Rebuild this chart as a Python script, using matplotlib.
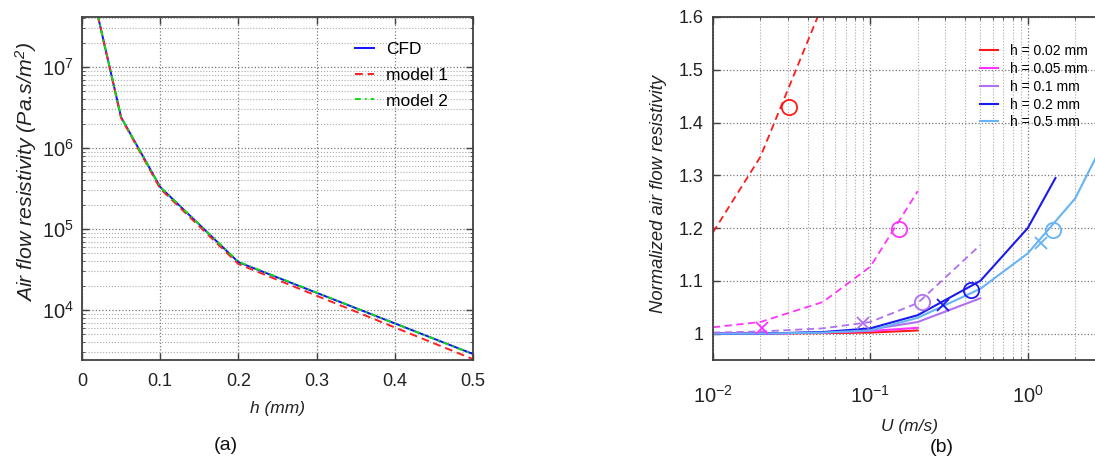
import matplotlib
matplotlib.use("Agg")
import matplotlib.pyplot as plt
import numpy as np
from matplotlib.ticker import LogLocator, NullFormatter

plt.rcParams["font.family"] = ["Liberation Sans", "DejaVu Sans"]
plt.rcParams["mathtext.fontset"] = "custom"
plt.rcParams["mathtext.rm"] = "Liberation Sans"
plt.rcParams["mathtext.it"] = "Liberation Sans:italic"
plt.rcParams["mathtext.default"] = "regular"

# ---- panel (a) data ----
h_mm = [0.02, 0.05, 0.1, 0.2, 0.5]
res_cfd = [4.4e7, 2.4e6, 3.3e5, 3.9e4, 2.87e3]
res_model1 = [4.4e7, 2.35e6, 3.15e5, 3.7e4, 2.48e3]
res_model2 = [4.4e7, 2.4e6, 3.3e5, 3.95e4, 2.85e3]
a_xticks = [0, 0.1, 0.2, 0.3, 0.4, 0.5]
a_xticklabels = ["0", "0.1", "0.2", "0.3", "0.4", "0.5"]

# ---- panel (b) data ----
u_ms = [0.01, 0.02, 0.05, 0.1, 0.2]
n_002_cfd = [1.0, 1.0, 1.001, 1.002, 1.006]
n_005_cfd = [1.0, 1.0, 1.002, 1.005, 1.011]
u_002_model = [0.01, 0.02, 0.05]
n_002_model = [1.192, 1.335, 1.625]
n_005_model = [1.012, 1.022, 1.06, 1.127, 1.27]
u_01 = [0.01, 0.02, 0.05, 0.1, 0.2, 0.5]
n_01_cfd = [1.0, 1.0, 1.002, 1.008, 1.022, 1.067]
n_01_model = [1.002, 1.004, 1.01, 1.022, 1.058, 1.168]
u_02 = [0.01, 0.02, 0.05, 0.1, 0.2, 0.5, 1.0, 1.5]
n_02_cfd = [1.0, 1.0, 1.003, 1.01, 1.035, 1.1, 1.2, 1.295]
u_05 = [0.01, 0.02, 0.05, 0.1, 0.2, 0.5, 1.0, 2.0, 3.0]
n_05_cfd = [1.0, 1.0, 1.002, 1.006, 1.03, 1.085, 1.152, 1.256, 1.36]

circ_u = [0.0302, 0.152, 0.212, 0.435, 1.44]
circ_n = [1.43, 1.198, 1.06, 1.083, 1.197]
cross_u = [0.0204, 0.09, 0.291, 1.215]
cross_n = [1.011, 1.02, 1.054, 1.171]

b_yticks = [1.0, 1.1, 1.2, 1.3, 1.4, 1.5, 1.6]
b_yticklabels = ["1", "1.1", "1.2", "1.3", "1.4", "1.5", "1.6"]

c_red = "#ff1a1a"
c_mag = "#ff33ff"
c_pur = "#b070f0"
c_blue = "#1a1aee"
c_lblue = "#66b3f5"

W, H = 1095, 463
fig = plt.figure(figsize=(W / 100, H / 100), dpi=100)


def px_axes(l, t, r, b):
    return [l / W, 1 - b / H, (r - l) / W, (b - t) / H]


def style_axes(ax):
    for s in ax.spines.values():
        s.set_color("#404040")
        s.set_linewidth(1.3)
    ax.tick_params(which="both", direction="in", top=True, right=True,
                   colors="#404040", labelcolor="#222222", labelsize=13)
    ax.tick_params(which="major", length=5, width=1)
    ax.tick_params(which="minor", length=2.5, width=0.6)


# ---- (a) ----
ax1 = fig.add_axes(px_axes(82, 17, 473, 360))
ax1.semilogy(h_mm, res_cfd, color="#1010ff", lw=1.4, label="CFD")
ax1.semilogy(h_mm, res_model1, color="#ff2020", lw=1.4, ls=(0, (4, 2.5)), label="model 1")
ax1.semilogy(h_mm, res_model2, color="#10dd10", lw=1.4, ls=(0, (3, 2, 1, 2)), label="model 2")
ax1.set_xlim(0, 0.5)
ax1.set_ylim(2.42e3, 4.14e7)
ax1.set_xticks(a_xticks)
ax1.set_xticklabels(a_xticklabels)
ax1.yaxis.set_major_locator(LogLocator(base=10, numticks=10))
ax1.yaxis.set_minor_locator(LogLocator(base=10, subs=np.arange(2, 10), numticks=20))
ax1.yaxis.set_minor_formatter(NullFormatter())
ax1.grid(which="major", ls=":", color="#777777", lw=0.9)
ax1.grid(which="minor", axis="y", ls=":", color="#aaaaaa", lw=0.8)
style_axes(ax1)
ax1.tick_params(axis="x", pad=9)
ax1.tick_params(axis="y", labelsize=14.5, pad=6)
ax1.set_xlabel("h (mm)", fontsize=12.5, style="italic", color="#222222")
ax1.set_ylabel("Air flow resistivity (Pa.s/m$^2$)", fontsize=15.3, style="italic", color="#222222")
ax1.xaxis.set_label_coords(0.5, -0.12)
ax1.yaxis.set_label_coords(-0.11, 0.548)
ax1.legend(loc="upper left", bbox_to_anchor=((355 - 82) / 391, (360 - 42) / 343.3),
           frameon=False, fontsize=12.5, handlelength=1.1, handletextpad=0.7,
           labelspacing=0.6, borderpad=0, borderaxespad=0)

# ---- (b) ----
ax2 = fig.add_axes(px_axes(713, 17, 1106.45, 360))
ax2.set_xscale("log")
ax2.plot(u_ms, n_002_cfd, color=c_red, lw=1.5, label="h = 0.02 mm")
ax2.plot(u_ms, n_005_cfd, color=c_mag, lw=1.5, label="h = 0.05 mm")
ax2.plot(u_01, n_01_cfd, color=c_pur, lw=1.5, label="h = 0.1 mm")
ax2.plot(u_02, n_02_cfd, color=c_blue, lw=1.5, label="h = 0.2 mm")
ax2.plot(u_05, n_05_cfd, color=c_lblue, lw=1.5, label="h = 0.5 mm")
ax2.plot(u_002_model, n_002_model, color=c_red, lw=1.3, ls=(0, (4, 2.5)))
ax2.plot(u_ms, n_005_model, color=c_mag, lw=1.3, ls=(0, (4, 2.5)))
ax2.plot(u_01, n_01_model, color=c_pur, lw=1.3, ls=(0, (4, 2.5)))
circ_cols = [c_red, c_mag, c_pur, c_blue, c_lblue]
cross_cols = [c_mag, c_pur, c_blue, c_lblue]
for u, n, c in zip(circ_u, circ_n, circ_cols):
    ax2.plot(u, n, marker="o", ms=11, mfc="none", mec=c, mew=1.3)
for u, n, c in zip(cross_u, cross_n, cross_cols):
    ax2.plot(u, n, marker="x", ms=9, mec=c, mew=1.3)
ax2.set_xlim(0.01, 10 ** 0.5)
ax2.set_ylim(0.95, 1.6)
ax2.set_yticks(b_yticks)
ax2.set_yticklabels(b_yticklabels)
ax2.xaxis.set_major_locator(LogLocator(base=10, numticks=10))
ax2.xaxis.set_minor_locator(LogLocator(base=10, subs=np.arange(2, 10), numticks=20))
ax2.xaxis.set_minor_formatter(NullFormatter())
ax2.grid(which="major", ls=":", color="#777777", lw=0.9)
ax2.grid(which="minor", axis="x", ls=":", color="#aaaaaa", lw=0.8)
style_axes(ax2)
ax2.tick_params(axis="x", labelsize=14.5, pad=18)
ax2.tick_params(axis="y", pad=7)
ax2.set_xlabel("U (m/s)", fontsize=12.5, style="italic", color="#222222")
ax2.set_ylabel("Normalized air flow resistivity", fontsize=13.3, style="italic", color="#222222")
ax2.xaxis.set_label_coords(0.5, -0.172)
ax2.yaxis.set_label_coords(-0.118, 0.485)
ax2.legend(loc="upper left", bbox_to_anchor=((980 - 713) / 393.45, (360 - 44) / 343.3),
           frameon=False, fontsize=10, handlelength=1.3, handletextpad=0.85,
           labelspacing=0.27, borderpad=0, borderaxespad=0)

fig.text(226 / W, 1 - 445 / H, "(a)", ha="center", va="center", fontsize=14, color="#111111")
fig.text(942 / W, 1 - 447 / H, "(b)", ha="center", va="center", fontsize=14, color="#111111")

fig.savefig("out.png", dpi=100)
